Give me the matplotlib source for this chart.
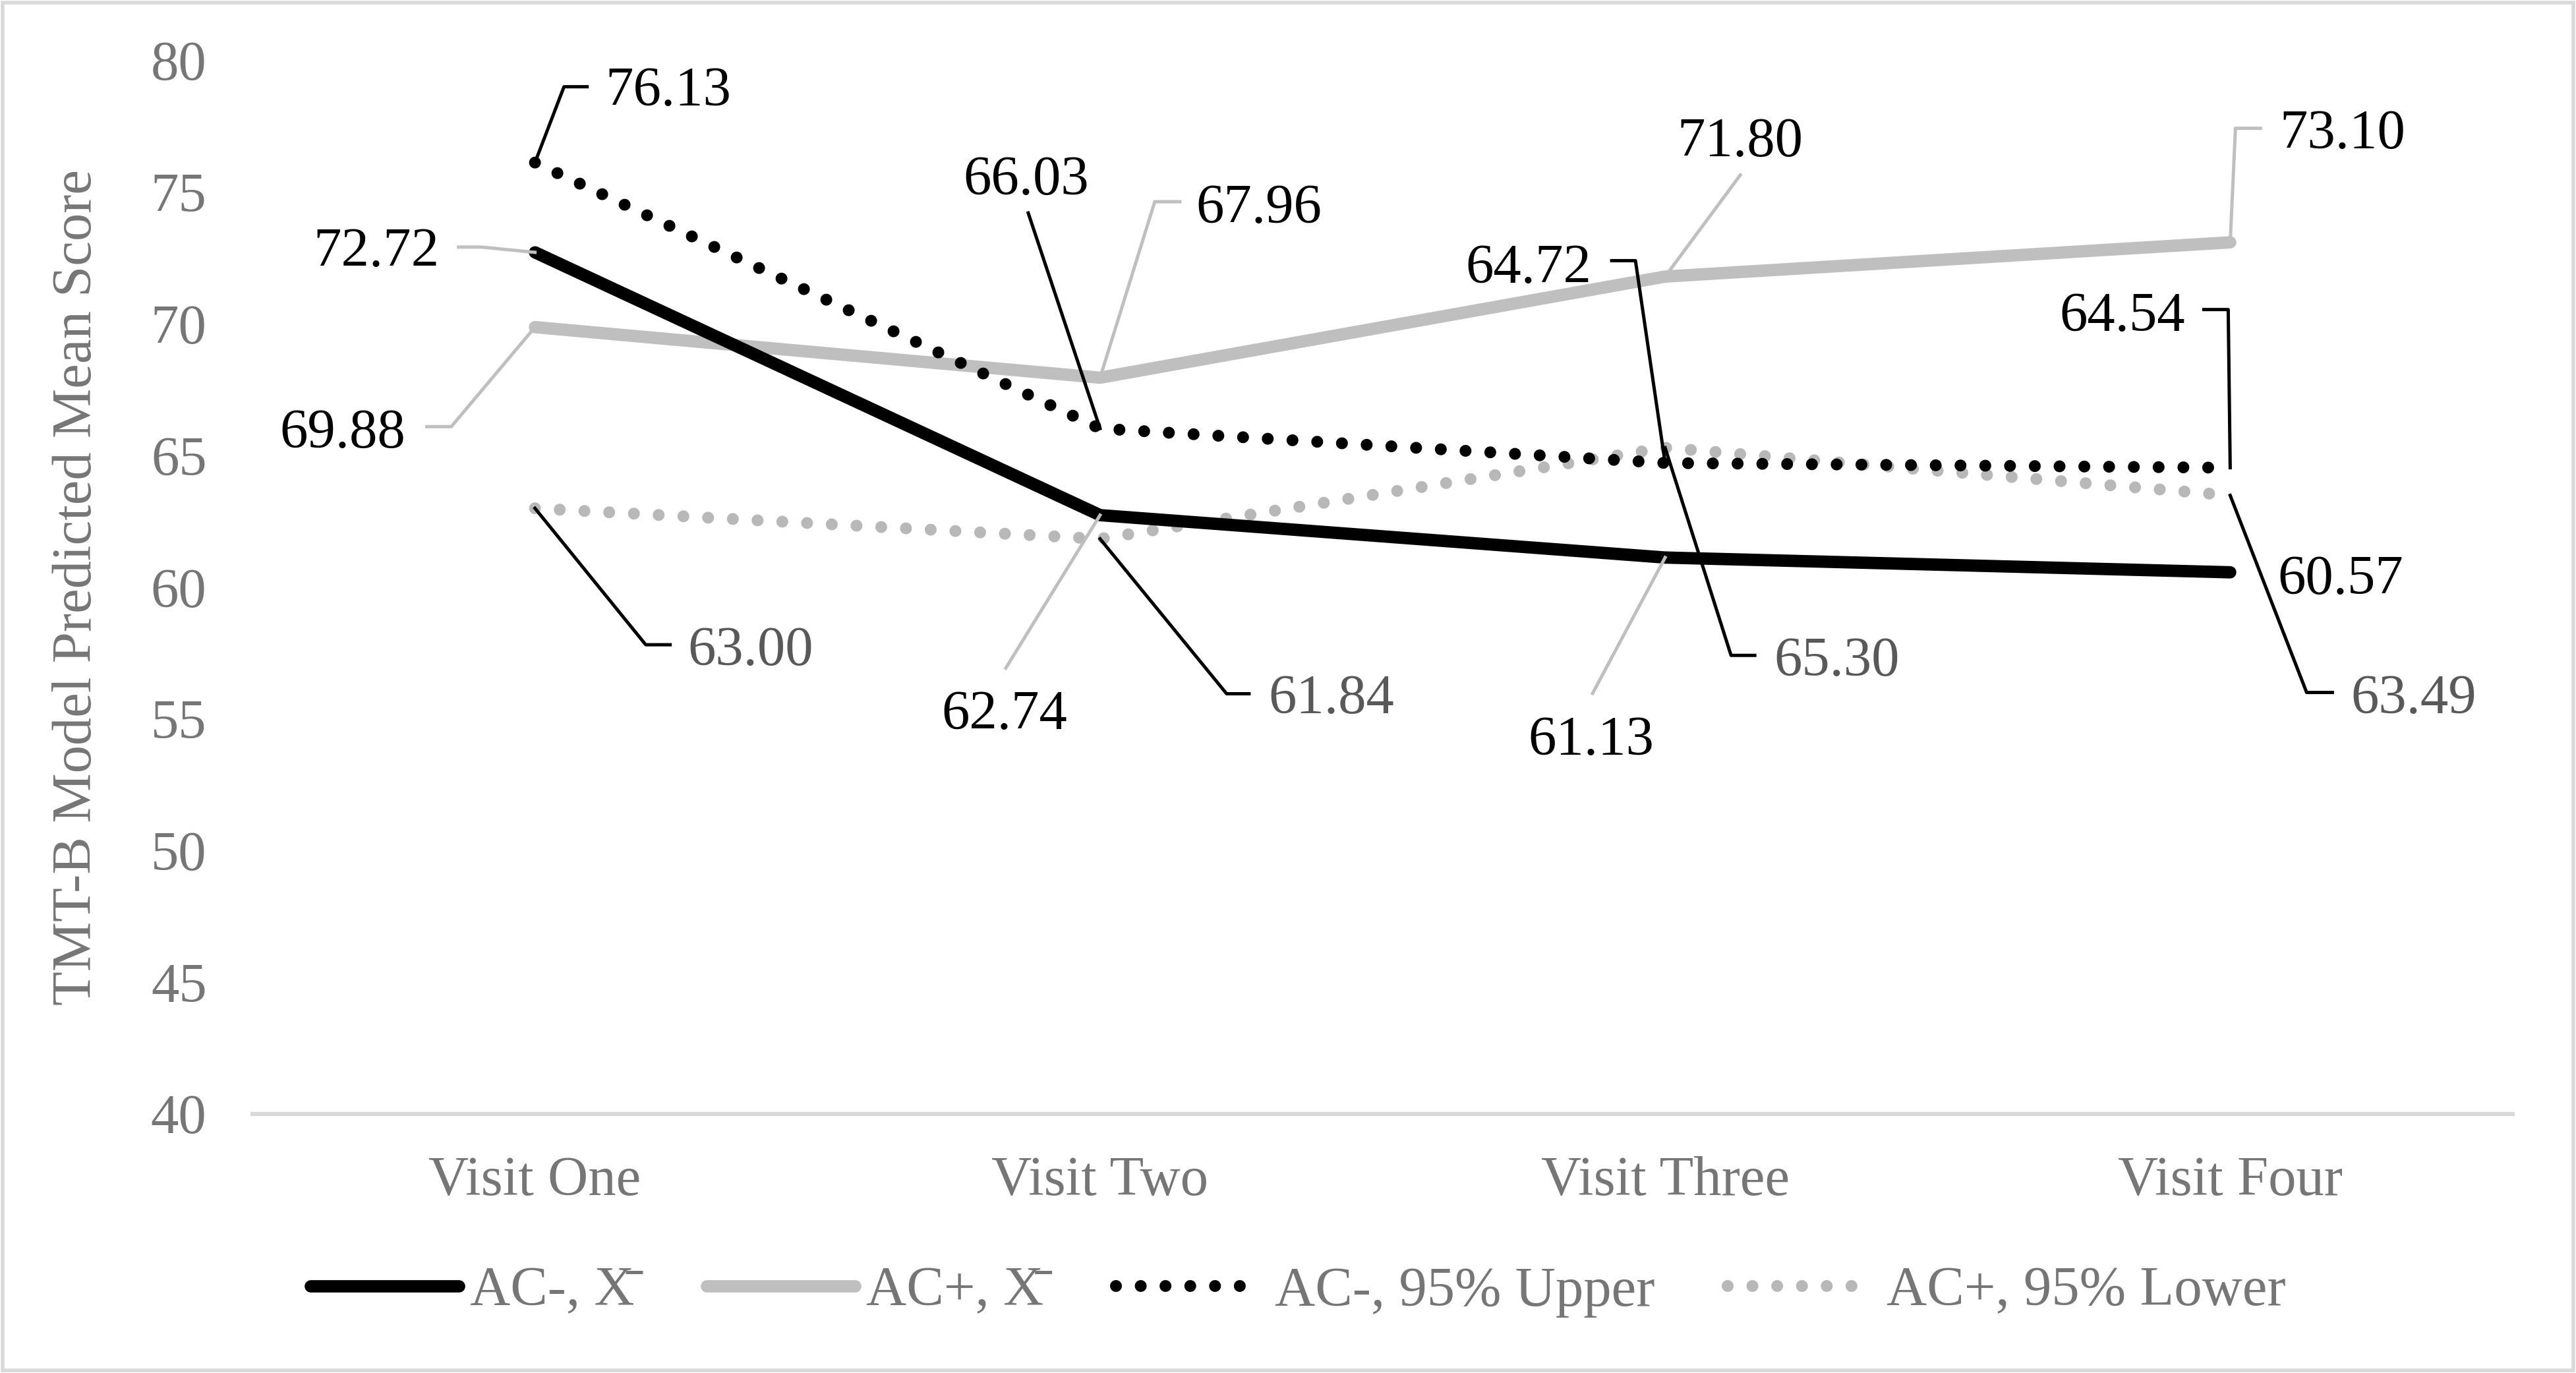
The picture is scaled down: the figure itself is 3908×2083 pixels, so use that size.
import matplotlib
matplotlib.use("Agg")
import matplotlib.pyplot as plt
from matplotlib.lines import Line2D
from matplotlib.patches import Rectangle
from matplotlib.transforms import Affine2D

plt.rcParams['font.family'] = ['Liberation Serif', 'DejaVu Serif']

# data
visits = ["Visit One", "Visit Two", "Visit Three", "Visit Four"]
ac_neg_mean = [72.72, 62.74, 61.13, 60.57]
ac_pos_mean = [69.88, 67.96, 71.80, 73.10]
ac_neg_upper = [76.13, 66.03, 64.72, 64.54]
ac_pos_lower = [63.00, 61.84, 65.30, 63.49]
legend_labels = ["AC-, X\u0304", "AC+, X\u0304", "AC-, 95% Upper", "AC+, 95% Lower"]

TICK_GRAY = "#767676"
LABEL_DARK = "#595959"
LIGHT = "#bfbfbf"
FS = 61

fig = plt.figure(figsize=(39.08, 20.83), dpi=100)
ax = fig.add_axes([383 / 3908, 393 / 2083, (3812 - 383) / 3908, (1690 - 92) / 2083])

x = range(len(visits))
dot = (0, (0.001, 2.08))
ax.plot(x, ac_neg_mean, color="black", lw=13.5, solid_capstyle="round",
        solid_joinstyle="round", label=legend_labels[0], zorder=3)
ax.plot(x, ac_pos_mean, color=LIGHT, lw=13.5, solid_capstyle="round",
        solid_joinstyle="round", label=legend_labels[1], zorder=2)
ax.plot(x, ac_neg_upper, color="black", lw=13, linestyle=dot,
        dash_capstyle="round", label=legend_labels[2], zorder=3)
ax.plot(x, ac_pos_lower, color="#b8b8b8", lw=13, linestyle=dot,
        dash_capstyle="round", label=legend_labels[3], zorder=2)

ax.set_xlim(-0.5, 3.5)
ax.set_ylim(40, 80)
ax.set_yticks(range(40, 81, 5))
ax.set_xticks(list(x))
ax.set_xticklabels(visits)
ax.tick_params(axis="both", length=0, labelsize=FS, labelcolor=TICK_GRAY)
ax.tick_params(axis="y", pad=50)
ax.tick_params(axis="x", pad=46)
for s in ["top", "right", "left"]:
    ax.spines[s].set_visible(False)
ax.spines["bottom"].set_color("#d9d9d9")
ax.spines["bottom"].set_linewidth(4.5)
ax.set_ylabel("TMT-B Model Predicted Mean Score", fontsize=FS, color=TICK_GRAY)
ax.yaxis.set_label_coords(156 / 3908, 1 - 891 / 2083, transform=fig.transFigure)

# data labels: (series, visit, ha, text offset px, leader offsets px, leader color, text color)
series = {"neg_mean": ac_neg_mean, "pos_mean": ac_pos_mean,
          "neg_up": ac_neg_upper, "pos_low": ac_pos_lower}
labels = [
    ("neg_up", 0, "left", (107, 115), [(79, 115), (44, 115)], "black", "black"),
    ("neg_mean", 0, "right", (-145, 7), [(-116, 8), (-81, 8)], LIGHT, "black"),
    ("pos_mean", 0, "right", (-196, -154), [(-164, -151), (-127, -151)], LIGHT, "black"),
    ("pos_low", 0, "left", (232, -209), [(205, -207), (168, -207)], "black", LABEL_DARK),
    ("neg_up", 1, "center", (-112, 384), [(-109, 327)], "black", "black"),
    ("pos_mean", 1, "left", (146, 263), [(121, 267), (83, 267)], LIGHT, "black"),
    ("neg_mean", 1, "center", (-145, -296), [(-143, -232)], LIGHT, "black"),
    ("pos_low", 1, "left", (255, -236), [(226, -235), (192, -235)], "black", LABEL_DARK),
    ("pos_mean", 2, "center", (114, 211), [(114, 154)], LIGHT, "black"),
    ("neg_up", 2, "right", (-112, 302), [(-81, 307), (-45, 307)], "black", "black"),
    ("neg_mean", 2, "center", (-112, -271), [(-110, -206)], LIGHT, "black"),
    ("pos_low", 2, "left", (165, -317), [(136, -315), (100, -315)], "black", LABEL_DARK),
    ("pos_mean", 3, "left", (75, 171), [(46, 173), (8, 173)], LIGHT, "black"),
    ("neg_up", 3, "right", (-68, 236), [(-40, 240), (-3, 240)], "black", "black"),
    ("neg_mean", 3, "left", (72, -4), [], None, "black"),
    ("pos_low", 3, "left", (183, -302), [(155, -299), (116, -299)], "black", LABEL_DARK),
]

for key, i, ha, (tx, ty), leader, lcol, tcol in labels:
    v = series[key][i]
    # shift down a little: va='center' includes the descender
    ax.annotate(f"{v:.2f}", xy=(i, v), xytext=(tx, ty - 8), textcoords="offset pixels",
                ha=ha, va="center", fontsize=FS, color=tcol, zorder=5)
    if leader:
        px, py = ax.transData.transform((i, v))
        pts = leader + [(0, 0)]
        ln = Line2D([p[0] for p in pts], [p[1] for p in pts], color=lcol, lw=3.6,
                    transform=Affine2D().translate(px, py), zorder=4)
        fig.add_artist(ln)

leg = fig.legend(loc="center", bbox_to_anchor=(0.504, 1 - 1960 / 2083), ncol=4,
                 frameon=False, fontsize=FS, handlelength=2.65, handletextpad=0.2,
                 columnspacing=1.3, labelcolor=TICK_GRAY)

fig.add_artist(Rectangle((0.001, 0.002), 0.998, 0.996, transform=fig.transFigure,
                         fill=False, edgecolor="#d9d9d9", lw=4))

fig.savefig("out.png", dpi=100, facecolor="white")
